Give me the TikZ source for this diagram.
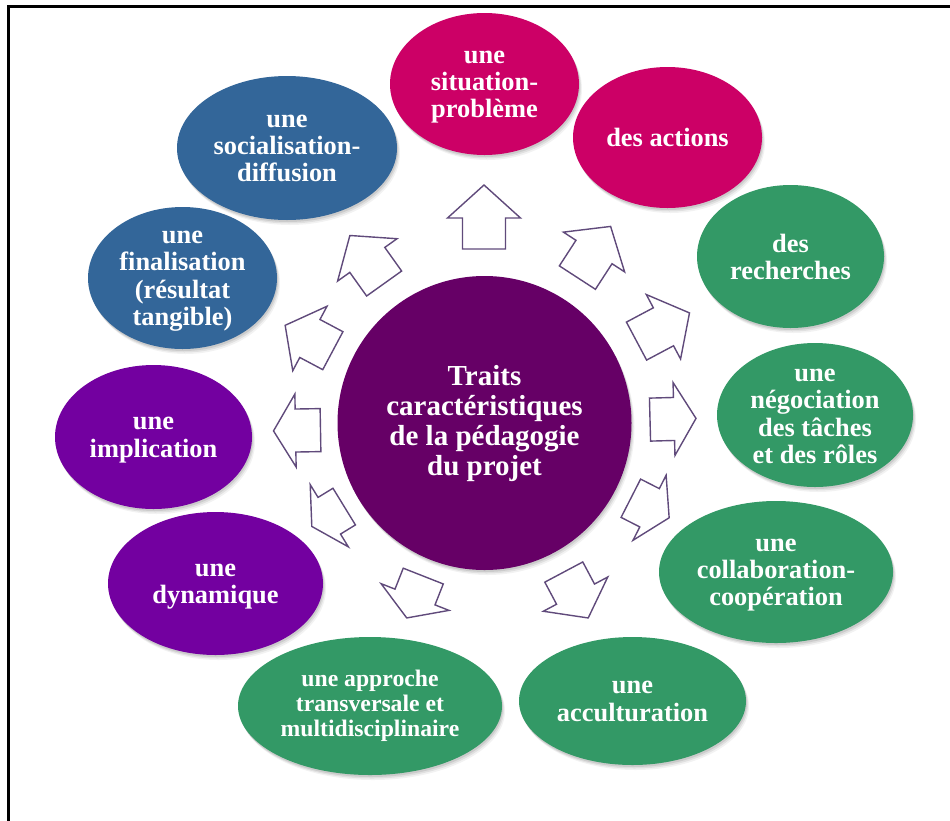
\documentclass[tikz,border=0pt]{standalone}
\usepackage{fontspec}
\setmainfont{Liberation Serif}
\usetikzlibrary{shadows}
\definecolor{cmag}{HTML}{CC0066}
\definecolor{cgreen}{HTML}{339966}
\definecolor{cblue}{HTML}{336699}
\definecolor{cviolet}{HTML}{7300A0}
\definecolor{ccenter}{HTML}{660066}
\definecolor{carrow}{HTML}{604A7B}
\tikzset{
  softshadow/.style={
    general shadow={fill=black, opacity=0.05, shadow xshift=3pt, shadow yshift=-5pt},
    general shadow={fill=black, opacity=0.07, shadow xshift=2pt, shadow yshift=-3.5pt},
    general shadow={fill=black, opacity=0.09, shadow xshift=1pt, shadow yshift=-2pt}},
  blob/.style={softshadow},
  lbl/.style={text=white, font=\bfseries\fontsize{26.4}{27.3}\selectfont, align=center, inner sep=0pt,
    execute at begin node=\strut, execute at end node=\strut, yshift=-4.5pt},
  smalllbl/.style={lbl, font=\bfseries\fontsize{23.7}{24.8}\selectfont, yshift=3.5pt},
  biglbl/.style={lbl, font=\bfseries\fontsize{29}{30}\selectfont, yshift=3pt},
  arrowline/.style={draw=carrow, line width=1.4pt, fill=white, line join=miter},
}
\begin{document}
\begin{tikzpicture}[x=1pt,y=-1pt]
\useasboundingbox (0,0) rectangle (950,820);
\fill[white] (0,0) rectangle (950,820);
% frame (only left and top edges visible)
\draw[line width=3pt] (8.3,830) -- (8.3,6.5) -- (960,6.5);

% outer ellipses
\fill[cmag,blob]    (484.5,84)   ellipse [x radius=94.5, y radius=71];
\fill[cmag,blob]    (667.5,137.5) ellipse [x radius=94.5, y radius=70.5];
\fill[cgreen,blob]  (790.5,256.5) ellipse [x radius=93.5, y radius=71.5];
\fill[cgreen,blob]  (815,415)    ellipse [x radius=98, y radius=72];
\fill[cgreen,blob]  (776,572)    ellipse [x radius=117, y radius=71];
\fill[cgreen,blob]  (632.5,701)  ellipse [x radius=113.5, y radius=64];
\fill[cgreen,blob]  (370,706)    ellipse [x radius=132, y radius=69];
\fill[cviolet,blob] (215.5,583.5) ellipse [x radius=107.5, y radius=71.5];
\fill[cviolet,blob] (153.5,437)  ellipse [x radius=98.5, y radius=72];
\fill[cblue,blob]   (182.5,278)  ellipse [x radius=94.5, y radius=71];
\fill[cblue,blob]   (287,148)    ellipse [x radius=110, y radius=72];

% centre circle
\fill[ccenter,blob] (484.5,423) circle [radius=147];

% block arrows pointing outward
\foreach \cx/\cy/\ang/\L/\h in {
  484/217/90/64/33,
  594/252/57/61/30.5,
  663/327/28/60/29.5,
  673/419/1.5/46/22,
  650/508/-27/43/22,
  576/595/-62/52/27,
  415/597/-111.5/45/22.5,
  328/516.5/-148.5/38/20.5,
  297/430.5/181/47/22,
  309/338/152/54/28,
  367/259.5/125.5/59/30}{
  \draw[arrowline, shift={(\cx,\cy)}, rotate=\ang]
    (-\L/2,-21.5) -- (\L/2-\h,-21.5) -- (\L/2-\h,-36.5) -- (\L/2,0)
    -- (\L/2-\h,36.5) -- (\L/2-\h,21.5) -- (-\L/2,21.5) -- cycle;
}

% texts
\node[lbl] (sit)  at (484.5,84)   {une\\situation-\\problème};
\node[lbl] (act)  at (667.5,136.5) {des actions};
\node[lbl] (rech) at (790.5,256.5) {des\\recherches};
\node[lbl] (nego) at (815,416)    {une\\négociation\\des tâches\\et des rôles};
\node[lbl] (coll) at (776,572)    {une\\collaboration-\\coopération};
\node[lbl] (acc)  at (632.5,701)  {une\\acculturation};
\node[smalllbl] (appr) at (370,706) {une approche\\transversale et\\multidisciplinaire};
\node[lbl] (dyn)  at (215.5,583.5) {une\\dynamique};
\node[lbl] (impl) at (153.5,437)  {une\\implication};
\node[lbl] (fin)  at (182.5,278)  {une\\finalisation\\(résultat\\tangible)};
\node[lbl] (soc)  at (287,148)    {une\\socialisation-\\diffusion};
\node[biglbl] (ctr) at (484.5,423) {Traits\\caractéristiques\\de la pédagogie\\du projet};
\end{tikzpicture}
\end{document}
